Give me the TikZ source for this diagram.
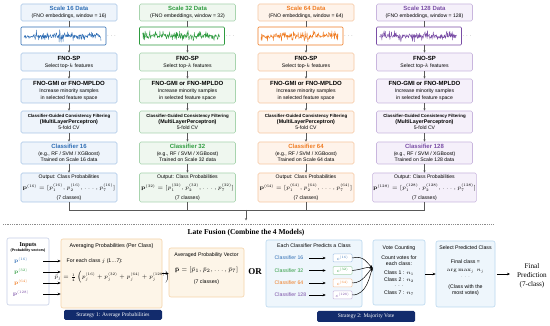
\documentclass[tikz,border=0pt]{standalone}
\usepackage{fix-cm}
\usepackage[no-math]{fontspec}
\setmainfont{Liberation Serif}
\setsansfont{Liberation Sans}
\usetikzlibrary{arrows.meta,calc}
\definecolor{c1}{HTML}{2F6EB5}\definecolor{c1f}{HTML}{EEF4FB}\definecolor{c1b}{HTML}{A9C6E6}
\definecolor{c2}{HTML}{2E9B3F}\definecolor{c2f}{HTML}{EFF7EF}\definecolor{c2b}{HTML}{A8D4AE}
\definecolor{c3}{HTML}{F07C22}\definecolor{c3f}{HTML}{FEF3EA}\definecolor{c3b}{HTML}{F6C6A0}
\definecolor{c4}{HTML}{7A4EA6}\definecolor{c4f}{HTML}{F5F0FA}\definecolor{c4b}{HTML}{C9B6DE}
\definecolor{avgf}{HTML}{FDF5E8}\definecolor{avgb}{HTML}{F5D3A8}
\definecolor{mvf}{HTML}{EEF6FC}\definecolor{mvb}{HTML}{B9D8EE}
\definecolor{inpb}{HTML}{C5CEE6}
\definecolor{navy}{HTML}{122B6C}
\newcommand\ttlf{\sffamily\bfseries\fontsize{6}{5.6}\selectfont}
\newcommand\sbtf{\sffamily\mdseries\fontsize{5.1}{5.6}\selectfont}
\newcommand\smf{\sffamily\mdseries\fontsize{5.2}{6}\selectfont}
\begin{document}
\begin{tikzpicture}[x=1pt,y=-1pt,
 colbox/.style={draw=c#1b, fill=c#1f, rounded corners=1.5pt, line width=0.6pt, align=center, inner sep=0.5pt, minimum width=96pt, font=\sbtf},
 conn/.style={draw=black!65, line width=0.5pt},
 arr/.style={conn, -{Stealth[length=2.4pt,width=2.2pt]}},
 barr/.style={draw=black, line width=0.5pt, -{Stealth[length=3pt,width=2.6pt]}},
 abox/.style={draw=avgb, fill=avgf, rounded corners=2pt, line width=0.6pt},
 mbox/.style={draw=mvb, fill=mvf, rounded corners=2pt, line width=0.6pt},
 strat/.style={fill=navy, rounded corners=1.5pt, text=white, font=\fontsize{5.5}{6}\selectfont, inner sep=0pt},
 txt/.style={font=\smf, inner sep=0.5pt, align=center},
]
\useasboundingbox (0,0) rectangle (550,326);
\fill[white] (0,0) rectangle (550,326);

\foreach \i/\cx/\lab/\sd in {1/69/16/11,2/187.5/32/23,3/306/64/37,4/424.5/128/51}{
 \node[colbox=\i, minimum height=17pt] (s\i) at (\cx,12.5) {{\ttlf\color{c\i}Scale \lab{} Data}\\[1.1pt](FNO embeddings, window = \lab)};
 \node[draw=c\i, fill=white, rounded corners=1pt, line width=0.6pt, minimum width=85pt, minimum height=18pt, inner sep=0pt] (w\i) at (\cx-5.5,36) {};
 \node[text=black!50, inner sep=0pt, font=\fontsize{6}{6}\selectfont] (d\i) at (\cx+42.5,36) {$\cdots$};
 \node[colbox=\i, minimum height=18pt] (f\i) at (\cx,62) {{\ttlf FNO-SP}\\[1.4pt]Select top-$k$ features};
 \node[colbox=\i, minimum height=24pt] (g\i) at (\cx,91) {{\ttlf FNO-GMI or FNO-MPLDO}\\[1.4pt]Increase minority samples\\[1.2pt]in selected feature space};
 \node[colbox=\i, minimum height=22pt] (k\i) at (\cx,122) {{\sffamily\bfseries\fontsize{4.4}{5.4}\selectfont Classifier-Guided Consistency Filtering}\\[0pt]{\sffamily\bfseries\fontsize{5.3}{5.4}\selectfont (MultiLayerPerceptron)}\\[0pt]5-fold CV};
 \node[colbox=\i, minimum height=22pt] (m\i) at (\cx,153) {{\ttlf\color{c\i}Classifier \lab}\\[1pt](e.g., RF / SVM / XGBoost)\\[0.6pt]Trained on Scale \lab{} data};
 \node[colbox=\i, minimum height=29pt] (o\i) at (\cx,187.5) {Output: Class Probabilities\\[3.4pt]{\fontsize{5.4}{5.6}\selectfont $\mathbf{p}^{(\lab)}=[p_1^{(\lab)},p_2^{(\lab)},\ldots,p_7^{(\lab)}]$}\\[3.4pt](7 classes)};
 \pgfmathsetseed{\sd}
 \pgfmathsetmacro{\wa}{\cx-45}
 \pgfmathsetmacro{\wb}{\cx+32}
 \draw[c\i, line width=0.4pt, line join=round] plot[domain=\wa:\wb, samples=200] (\x,{36+rand*(1.3+5.3*rnd^2)});
 \draw[conn] (s\i.south) -- (s\i.south |- w\i.north);
 \draw[arr] (f\i.north |- w\i.south) -- (f\i.north);
 \draw[arr] (f\i) -- (g\i);
 \draw[arr] (g\i) -- (k\i);
 \draw[arr] (k\i) -- (m\i);
 \draw[arr] (m\i) -- (o\i);
 \draw[conn] (o\i.south) -- ++(0,7.5);
}
\draw[conn] (o1.south |- 0,210) -- (o4.south |- 0,210);
\coordinate (mrg) at (246,210);
\coordinate (mend) at (246,220.5);
\draw[arr] (mrg) -- (mend);

\draw[black!45, line width=0.6pt, dash pattern=on 0.8pt off 1pt] (3,224) -- (493,224);
\node[font=\bfseries\fontsize{7.5}{8}\selectfont, inner sep=0pt] (lf) at (246,232.5) {Late Fusion (Combine the 4 Models)};

% Strategy 1
\node[draw=inpb, fill=white, rounded corners=2pt, line width=0.6pt, minimum width=42pt, minimum height=67pt] (inp) at (28,271.5) {};
\node[font=\bfseries\fontsize{6}{7}\selectfont, inner sep=0pt] (inpT) at (28,245) {Inputs};
\node[font=\sffamily\bfseries\fontsize{3.6}{4}\selectfont, inner sep=0pt] (inpS) at (28,251) {(Probability vectors)};
\node[abox, minimum width=101pt, minimum height=69pt] (avg) at (111.5,273.5) {};
\foreach \j/\lab/\y in {1/16/261,2/32/272,3/64/283,4/128/294}{
 \node[text=c\j, font=\fontsize{5.2}{6}\selectfont, inner sep=0pt] (p\j) at (21,\y) {$\mathbf{p}^{(\lab)}$};
 \coordinate (pa\j) at (43,\y);
 \draw[barr] (pa\j) -- (pa\j -| avg.west);
}
\node[txt, font=\sffamily\fontsize{5.4}{6}\selectfont] (avgT) at (111.5,246) {Averaging Probabilities (Per Class)};
\node[txt, anchor=west] (avgF) at (66,261) {For each class $j$ (1\ldots7):};
\node[inner sep=0pt, font=\fontsize{5.3}{7}\selectfont] (avgE) at (112,277) {$\bar p_j = \frac{1}{4}\left(p_j^{(16)} + p_j^{(32)} + p_j^{(64)} + p_j^{(128)}\right)$};
\node[abox, minimum width=75pt, minimum height=49pt] (avv) at (206.5,272.5) {};
\node[txt] (avvT) at (206.5,255) {Averaged Probability Vector};
\node[inner sep=0pt, font=\fontsize{6}{7}\selectfont] (avvE) at (206.5,270) {$\bar{\mathbf{p}} = [\bar p_1, \bar p_2, \ldots, \bar p_7]$};
\node[txt] (avvC) at (206.5,282) {(7 classes)};
\draw[barr] (avg.east) -- (avg.east -| avv.west);
\node[strat, minimum width=98pt, minimum height=10pt] (st1) at (113,315) {Strategy 1: Average Probabilities};

\node[font=\bfseries\fontsize{9}{10}\selectfont, inner sep=0pt] (or) at (255,272) {OR};

% Strategy 2
\node[mbox, minimum width=96pt, minimum height=67pt] (mv) at (314,273.5) {};
\node[txt] (mvT) at (314,246) {Each Classifier Predicts a Class};
\node[mbox, minimum width=52pt, minimum height=65pt] (vote) at (399,272.5) {};
\coordinate (vin) at ($(vote.west)+(0,-4.5)$);
\foreach \j/\lab/\y in {1/16/258,2/32/270.5,3/64/283,4/128/295}{
 \node[txt, text=c\j, anchor=west] (cl\j) at (274,\y) {Classifier \lab};
 \node[draw=c\j b, fill=white, rounded corners=1pt, line width=0.5pt, minimum width=19pt, minimum height=8pt, inner sep=0pt, text=c\j, font=\fontsize{4.8}{5}\selectfont] (cb\j) at (342.5,\y) {$c^{(\lab)}$};
 \draw[barr, shorten >=7pt] (cb\j.west -| 309,0) -- (cb\j.west);
}
\draw[barr] (cb1.east) .. controls +(12,-3) and +(-6,-5) .. (vin);
\draw[barr] (cb2.east) .. controls +(10,-1) and +(-6,-1.5) .. (vin);
\draw[barr] (cb3.east) .. controls +(11,0) and +(-5,4) .. (vin);
\draw[barr] (cb4.east) .. controls +(15,0) and +(-3,7) .. (vin);

\node[txt] (voteT) at (399,248) {Vote Counting};
\node[txt] (voteA) at (399,261) {Count votes for\\each class:};
\node[txt] (v1) at (399,273) {Class 1\,\,:\,\,$n_1$};
\node[txt] (v2) at (399,280) {Class 2\,\,:\,\,$n_2$};
\node[txt] (vd) at (399,286) {$\cdots$};
\node[txt] (v7) at (399,293) {Class 7\,\,:\,\,$n_7$};

\node[mbox, minimum width=59pt, minimum height=66pt] (sel) at (465.5,274) {};
\node[txt] (selT) at (465.5,248) {Select Predicted Class};
\node[txt] (selA) at (465.5,262) {Final class =};
\node[txt] (selB) at (465.5,271) {$\arg\max_j\, n_j$};
\node[txt, text=black!50] (selD) at (465.5,277.5) {$\cdots$};
\node[txt] (selC) at (465.5,290) {(Class with the\\most votes)};
\draw[barr] (vote.east |- sel.west) -- (sel.west);

\node[align=center, font=\fontsize{7.2}{9}\selectfont, inner sep=0pt] (fin) at (532,276) {Final\\Prediction\\(7-class)};
\draw[barr, shorten <=2pt, shorten >=7pt] (sel.east) -- (sel.east -| fin.west);
\node[strat, minimum width=98pt, minimum height=11pt] (st2) at (366,316.5) {Strategy 2: Majority Vote};
\end{tikzpicture}
\end{document}
